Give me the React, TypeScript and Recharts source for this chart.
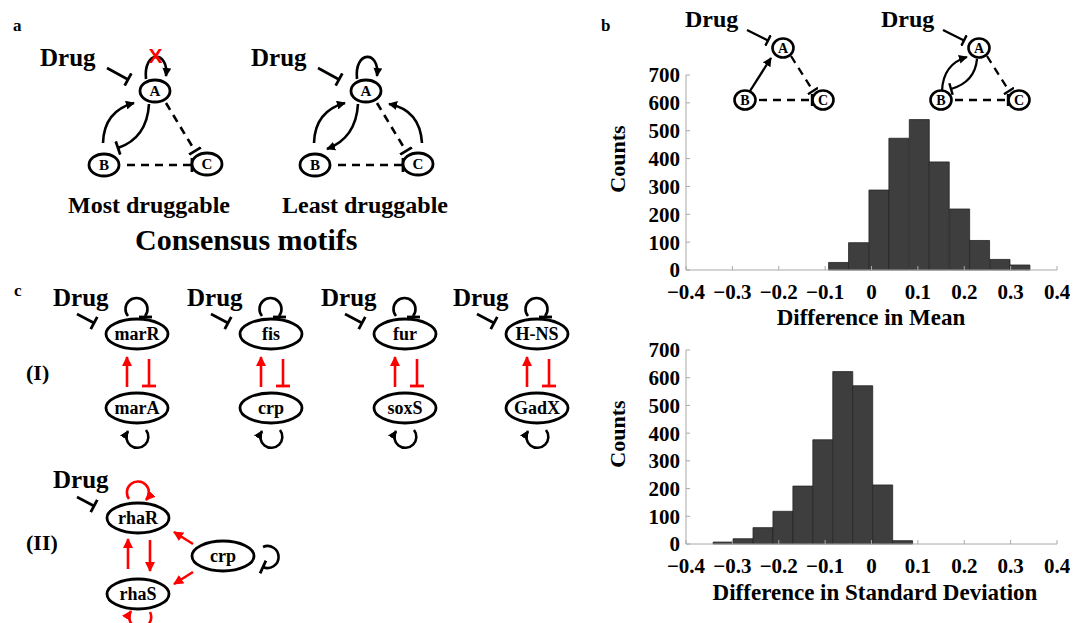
import React from 'react';
import { BarChart, Bar, XAxis, YAxis } from 'recharts';

// histogram bins (centres) and counts
const meanBins = [-0.071, -0.028, 0.016, 0.059, 0.103, 0.146, 0.19, 0.233, 0.277, 0.32];
const meanCounts = [27, 98, 287, 473, 540, 388, 219, 106, 38, 18];
const sdBins = [-0.32, -0.277, -0.234, -0.191, -0.148, -0.105, -0.062, -0.019, 0.024, 0.067];
const sdCounts = [7, 19, 59, 118, 209, 376, 622, 571, 213, 12];
const xTicks = [-0.4, -0.3, -0.2, -0.1, 0, 0.1, 0.2, 0.3, 0.4];
const yTicks = [0, 100, 200, 300, 400, 500, 600, 700];

const FONT = "'Liberation Serif', 'Times New Roman', serif";
const FRAME = '#a8a8a8';
const tickStyle = { fontFamily: FONT, fontWeight: 'bold', fontSize: 21, fill: '#000' };
const fmtX = (v: number) => (v === 0 ? '0' : String(v).replace('-', '\u2212'));

function Histogram({ bins, counts, top, height }: { bins: number[]; counts: number[]; top: number; height: number }) {
  const data = bins.map((x, i) => ({ x, count: counts[i] }));
  return (
    <div style={{ position: 'absolute', left: 600, top }}>
      <BarChart width={470} height={height} data={data} margin={{ top: 15, right: 13, left: 0, bottom: 0 }} barCategoryGap={0} barGap={0}>
        <XAxis dataKey="x" type="number" domain={[-0.4, 0.4]} ticks={xTicks} interval={0} allowDataOverflow
          height={40} stroke={FRAME} tickSize={-4} tickMargin={18} tick={tickStyle} tickFormatter={fmtX} />
        <XAxis xAxisId="top" orientation="top" dataKey="x" type="number" domain={[-0.4, 0.4]} ticks={xTicks} interval={0}
          allowDataOverflow height={0} stroke={FRAME} tickSize={-4} tick={false} />
        <YAxis domain={[0, 700]} ticks={yTicks} interval={0} width={86} stroke={FRAME} tickSize={-4} tickMargin={10} tick={tickStyle} />
        <YAxis yAxisId="r" orientation="right" domain={[0, 700]} ticks={yTicks} interval={0} width={0} stroke={FRAME} tickSize={-4} tick={false} />
        <Bar dataKey="count" fill="#3e3e3e" stroke="#262626" strokeWidth={0.8} isAnimationActive={false} />
      </BarChart>
    </div>
  );
}

const Defs = () => (
  <defs>
    <marker id="ah" viewBox="0 0 10 10" refX="9" refY="5" markerWidth="9" markerHeight="9" markerUnits="userSpaceOnUse" orient="auto">
      <path d="M0,0 L10,5 L0,10 z" fill="#000" />
    </marker>
    <marker id="ahr" viewBox="0 0 10 10" refX="9" refY="5" markerWidth="10" markerHeight="10" markerUnits="userSpaceOnUse" orient="auto">
      <path d="M0,0 L10,5 L0,10 z" fill="#f00" />
    </marker>
    <marker id="tb" viewBox="0 0 4 14" refX="2" refY="7" markerWidth="4" markerHeight="14" markerUnits="userSpaceOnUse" orient="auto">
      <rect x="0.6" y="0" width="2.8" height="14" fill="#000" />
    </marker>
    <marker id="tbs" viewBox="0 0 4 12" refX="2" refY="6" markerWidth="4" markerHeight="12" markerUnits="userSpaceOnUse" orient="auto">
      <rect x="0.8" y="0" width="2.4" height="12" fill="#000" />
    </marker>
  </defs>
);

const Node = ({ cx, cy, rx, ry, label, fs, sw = 2.8 }: any) => (
  <g>
    <ellipse cx={cx} cy={cy} rx={rx} ry={ry} fill="#fff" stroke="#000" strokeWidth={sw} />
    <text x={cx} y={cy + fs * 0.34} textAnchor="middle" fontSize={fs} fontWeight="bold" fontFamily={FONT}>{label}</text>
  </g>
);

const L = { fill: 'none', stroke: '#000', strokeWidth: 2.6 } as const;
const R = { fill: 'none', stroke: '#f00', strokeWidth: 2.6 } as const;
const bold = (size: number) => ({ fontFamily: FONT, fontWeight: 'bold' as const, fontSize: size });

// panel a consensus motif
function Motif({ dx, most }: { dx: number; most: boolean }) {
  return (
    <g transform={`translate(${dx},0)`}>
      <text x={40} y={66} {...bold(25)}>Drug</text>
      <path d="M107,68 L128,79.5" {...L} markerEnd="url(#tb)" />
      <path d="M146,79 C143,50 169,50 166,76" {...L} markerEnd="url(#ah)" />
      <path d="M103,143 Q104,111 134,103" {...L} markerEnd="url(#ah)" />
      {most
        ? <path d="M149,104 Q147,138 118,148" {...L} markerEnd="url(#tb)" />
        : <path d="M147,104 Q145,138 116,149" {...L} markerEnd="url(#ah)" />}
      {!most && <path d="M211,143 Q209,110 178,104" {...L} markerEnd="url(#ah)" />}
      <path d="M166,103 L195,151" {...L} strokeDasharray="8 6" markerEnd="url(#tb)" />
      <path d="M127,165 L192,165" {...L} strokeDasharray="8 6" markerEnd="url(#tb)" />
      <Node cx={155} cy={91} rx={15} ry={11} label="A" fs={15} />
      <Node cx={104} cy={165} rx={15} ry={11} label="B" fs={15} />
      <Node cx={207} cy={164} rx={15} ry={11} label="C" fs={15} />
      {most && <text x={155.5} y={63} textAnchor="middle" fill="#f00" fontFamily="'Liberation Sans', Arial, sans-serif" fontWeight="bold" fontSize={21}>X</text>}
    </g>
  );
}

// panel b small motifs above the histogram
function SmallMotif({ dx, loop }: { dx: number; loop: boolean }) {
  const S = { fill: 'none', stroke: '#000', strokeWidth: 2.3 } as const;
  return (
    <g transform={`translate(${dx},0)`}>
      <text x={685} y={27} {...bold(24)}>Drug</text>
      <path d="M747,30 L768,40.5" {...S} markerEnd="url(#tbs)" />
      {loop ? (
        <>
          <path d="M942,91 Q943,64 967,57" {...S} markerEnd="url(#ah)" transform="translate(-196,0)" />
          <path d="M977,59 Q975,82 951,89" {...S} markerEnd="url(#tbs)" transform="translate(-196,0)" />
        </>
      ) : (
        <path d="M750,91 L771,58" {...S} markerEnd="url(#ah)" />
      )}
      <path d="M791,56 L813,91" {...S} strokeDasharray="8 6" markerEnd="url(#tbs)" />
      <path d="M759,100 L812,100" {...S} strokeDasharray="8 6" markerEnd="url(#tbs)" />
      <Node cx={783} cy={48} rx={10.5} ry={9.5} label="A" fs={14} sw={2.6} />
      <Node cx={745} cy={100} rx={10.5} ry={9.5} label="B" fs={14} sw={2.6} />
      <Node cx={823} cy={100} rx={10.5} ry={9.5} label="C" fs={14} sw={2.6} />
    </g>
  );
}

// panel c (I) pair of genes
function Pair({ cx, top, bottom }: { cx: number; top: string; bottom: string }) {
  return (
    <g transform={`translate(${cx},0)`}>
      <text x={-84} y={306} {...bold(25)}>Drug</text>
      <path d="M-60,314 L-43,323" {...L} markerEnd="url(#tb)" />
      <path d="M-9,316 A11,11 0 1,1 8,316" {...L} />
      <line x1={2} y1={317} x2={15} y2={317} stroke="#000" strokeWidth={2.8} />
      <path d="M-10,387 L-10,357" {...R} markerEnd="url(#ahr)" />
      <path d="M12,359 L12,386" {...R} />
      <line x1={5} y1={386} x2={19} y2={386} stroke="#f00" strokeWidth={2.8} />
      <path d="M9,430 A11,11 0 1,1 -9,431" {...L} markerEnd="url(#ah)" />
      <Node cx={0} cy={334} rx={31} ry={15} label={top} fs={18} />
      <Node cx={0} cy={408} rx={31} ry={15} label={bottom} fs={18} />
    </g>
  );
}

function Diagrams() {
  return (
    <svg width={1084} height={623} style={{ position: 'absolute', left: 0, top: 0, pointerEvents: 'none' }}>
      <Defs />
      {/* panel a */}
      <text x={13} y={31} {...bold(17)}>a</text>
      <Motif dx={0} most />
      <Motif dx={211} most={false} />
      <text x={68} y={213} {...bold(24)}>Most druggable</text>
      <text x={282} y={213} {...bold(24)}>Least druggable</text>
      <text x={135} y={250} {...bold(30)}>Consensus motifs</text>

      {/* panel b */}
      <text x={601} y={31} {...bold(17)}>b</text>
      <SmallMotif dx={0} loop={false} />
      <SmallMotif dx={196} loop />
      <text x={625} y={159} transform="rotate(-90 625 159)" textAnchor="middle" {...bold(22)}>Counts</text>
      <text x={625} y={434} transform="rotate(-90 625 434)" textAnchor="middle" {...bold(22)}>Counts</text>
      <text x={871} y={325} textAnchor="middle" {...bold(23)}>Difference in Mean</text>
      <text x={875} y={600} textAnchor="middle" {...bold(23)}>Difference in Standard Deviation</text>

      {/* panel c */}
      <text x={14} y={296} {...bold(17)}>c</text>
      <text x={26} y={380} {...bold(22)}>(I)</text>
      <Pair cx={137} top="marR" bottom="marA" />
      <Pair cx={271} top="fis" bottom="crp" />
      <Pair cx={405} top="fur" bottom="soxS" />
      <Pair cx={537} top="H-NS" bottom="GadX" />

      <text x={26} y={550} {...bold(22)}>(II)</text>
      <text x={53} y={488} {...bold(25)}>Drug</text>
      <path d="M77,497 L94,506" {...L} markerEnd="url(#tb)" />
      <path d="M129,499 A11,11 0 1,1 146,500" {...R} markerEnd="url(#ahr)" />
      <path d="M128,569 L128,539" {...R} markerEnd="url(#ahr)" />
      <path d="M150,540 L150,571" {...R} markerEnd="url(#ahr)" />
      <path d="M193,544 L174,532" {...R} markerEnd="url(#ahr)" />
      <path d="M193,572 L174,584" {...R} markerEnd="url(#ahr)" />
      <path d="M263,547 A11,11 0 1,1 263,567" {...L} markerEnd="url(#tb)" />
      <path d="M150,612 A11,11 0 1,1 131,611" {...R} markerEnd="url(#ahr)" />
      <Node cx={138} cy={518} rx={31} ry={15} label="rhaR" fs={18} />
      <Node cx={138} cy={594} rx={31} ry={15} label="rhaS" fs={18} />
      <Node cx={223} cy={556} rx={31} ry={15} label="crp" fs={18} />
    </svg>
  );
}

export default function App() {
  return (
    <div style={{ position: 'absolute', left: 0, top: 0, width: 1084, height: 623, background: '#fff', overflow: 'hidden', fontFamily: FONT }}>
      <Histogram bins={meanBins} counts={meanCounts} top={60} height={250} />
      <Histogram bins={sdBins} counts={sdCounts} top={335} height={249} />
      <Diagrams />
    </div>
  );
}
